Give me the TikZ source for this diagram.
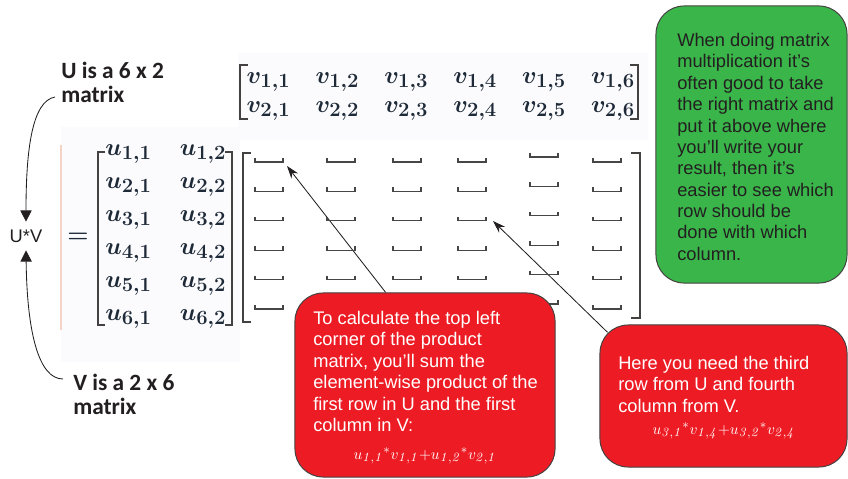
\documentclass[tikz,border=0pt]{standalone}
\usepackage[no-math]{fontspec}
\usepackage{amsmath}
\newfontfamily\arialfont{Liberation Sans}
\newfontfamily\calibrifont{Carlito}
\usetikzlibrary{arrows.meta,backgrounds}
\DeclareMathSizes{18}{18}{14}{10}
\DeclareMathSizes{11}{11}{9.5}{7}
\definecolor{notegreen}{RGB}{57,181,74}
\definecolor{notered}{RGB}{237,28,36}
\definecolor{inkgray}{RGB}{35,31,32}
\definecolor{entryink}{RGB}{30,42,56}
\definecolor{slotgray}{RGB}{70,70,70}
\definecolor{panelgray}{RGB}{251,251,253}
\definecolor{panelline}{RGB}{245,212,200}
\begin{document}
\begin{tikzpicture}[x=0.025cm, y=-0.025cm,
  sizelabel/.style={font=\calibrifont\bfseries\fontsize{16.6}{17}\selectfont, text=inkgray, align=left, inner sep=0, anchor=north west},
  note/.style={draw=inkgray!85, line width=0.7pt, rounded corners=20pt, inner sep=0},
  notetext/.style={font=\arialfont\fontsize{13}{15.2}\selectfont, align=left, inner sep=0, anchor=north west},
  formula/.style={font=\fontsize{11}{14}\selectfont, text=white, inner sep=0, anchor=base},
  entry/.style={font=\fontsize{18}{20}\selectfont\boldmath, text=entryink, inner sep=0, anchor=base},
  bracket/.style={draw=inkgray!85, line width=0.8pt},
  slot/.style={draw=slotgray, line width=0.9pt},
  pointer/.style={draw=inkgray, line width=0.6pt, -{Stealth[length=9pt,width=6pt]}},
  hook/.style={draw=inkgray, line width=0.6pt, -{Triangle[length=8pt,width=8pt]}}]
\useasboundingbox (0,0) rectangle (848,479);

% the two factor matrices
\node[sizelabel] (ulabel) at (61,62) {U is a 6 x 2\\matrix};
\node[sizelabel] (vlabel) at (73,374) {V is a 2 x 6\\matrix};
\draw[bracket] (248,65) -- (240,65) -- (240,119) -- (248,119);
\draw[bracket] (630,65) -- (638,65) -- (638,119) -- (630,119);
\foreach \j [evaluate=\j as \xv using 268.5+68.9*(\j-1)] in {1,...,6} {
  \node[entry] (v-1-\j) at (\xv,83) {$v_{1,\j}$};
  \node[entry] (v-2-\j) at (\xv,112) {$v_{2,\j}$};
}
\draw[bracket] (105,152) -- (98,152) -- (98,325) -- (105,325);
\draw[bracket] (225,152) -- (232,152) -- (232,325) -- (225,325);
\foreach \i [evaluate=\i as \yu using 155+33*(\i-1)] in {1,...,6} {
  \node[entry] (u-\i-1) at (128.5,\yu) {$u_{\i,1}$};
  \node[entry] (u-\i-2) at (203,\yu) {$u_{\i,2}$};
}
\node[entry, anchor=center, font=\fontsize{17}{20}\selectfont\boldmath] (equals) at (78,238) {$=$};
\node[font=\arialfont\fontsize{13}{15}\selectfont, text=inkgray, minimum height=20pt, inner sep=0] (uv) at (26,236) {U*V};
\coordinate (ustart) at (55,97);
\coordinate (vstart) at (63,379);
\draw[hook] (ustart) .. controls (32,101) and (26,150) .. (uv.north);
\draw[hook] (vstart) .. controls (38,379) and (27,330) .. (uv.south);

% empty product matrix
\draw[bracket] (251,153) -- (243,153) -- (243,322) -- (251,322);
\draw[bracket] (631,153) -- (640,153) -- (640,318) -- (631,318);
\foreach \xs/\dy in {255/0, 327/0, 393/0, 458/0, 530/-5, 593/0}
  \foreach \i in {0,...,5}
    \draw[slot] (\xs,{162+29.4*\i+\dy-4}) |- ({\xs+28},{162+29.4*\i+\dy}) -- ({\xs+28},{162+29.4*\i+\dy-4});
\coordinate (tipone) at (287,166);
\coordinate (tiptwo) at (493,221);

% notes
\node[note, fill=notegreen, minimum width=4.775cm, minimum height=6.925cm] (greennote) at (751.5,144.5) {};
\node[notetext, text=inkgray] (greentext) at (677,33) {When doing matrix\\multiplication it’s\\often good to take\\the right matrix and\\put it above where\\you’ll write your\\result, then it’s\\easier to see which\\row should be\\done with which\\column.};
\node[note, fill=notered, minimum width=6.5cm, minimum height=4.6cm] (redone) at (425,385) {};
\node[notetext, text=white] (redonetext) at (313,311) {To calculate the top left\\corner of the product\\matrix, you’ll sum the\\element-wise product of the\\first row in U and the first\\column in V:};
\node[formula] (redoneformula) at (425,459) {$u_{\mathit{1,1}}{}^{*}v_{\mathit{1,1}}{+}u_{\mathit{1,2}}{}^{*}v_{\mathit{2,1}}$};
\node[note, fill=notered, minimum width=6.175cm, minimum height=3.55cm] (redtwo) at (723.5,396) {};
\node[notetext, text=white] (redtwotext) at (618,356) {Here you need the third\\row from U and fourth\\column from V.};
\node[formula] (redtwoformula) at (724,434) {$u_{\mathit{3,1}}{}^{*}v_{\mathit{1,4}}{+}u_{\mathit{3,2}}{}^{*}v_{\mathit{2,4}}$};

\begin{pgfonlayer}{background}
\fill[panelgray] (238,53) rectangle (648,140);
\fill[panelgray] (61,127) rectangle (240,362);
\draw[panelline, line width=0.8pt] (61,145) -- (61,330);
\draw[pointer] (redone.113) -- (tipone);
\draw[pointer, shorten <=-8pt] (redtwo.north west) -- (tiptwo);
\end{pgfonlayer}
\end{tikzpicture}
\end{document}
